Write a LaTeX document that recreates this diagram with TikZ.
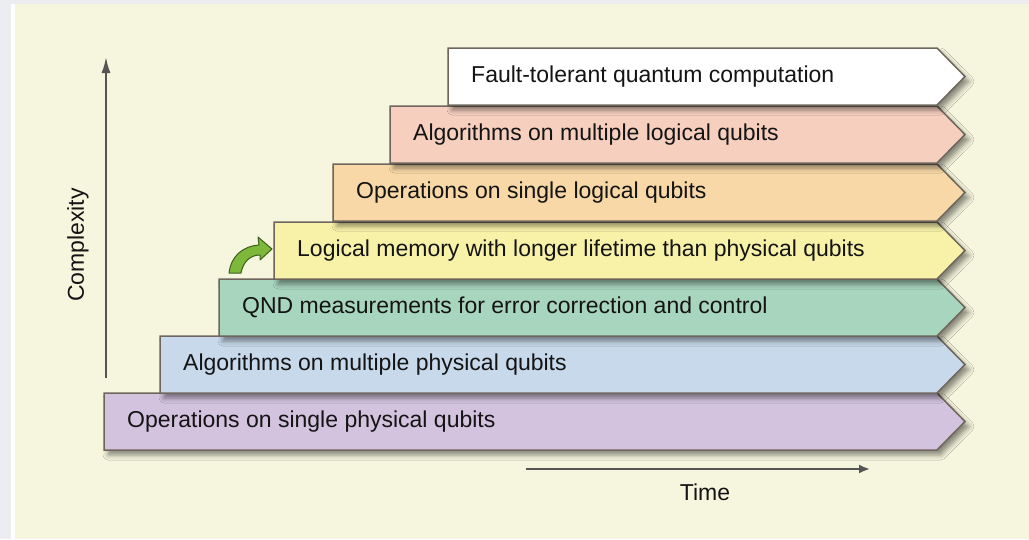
\documentclass[tikz,border=0pt]{standalone}
\usepackage{fontspec}
\setmainfont{Liberation Sans}
\usetikzlibrary{arrows.meta,shadows.blur}
\definecolor{outerbg}{HTML}{ECEDF1}
\definecolor{cream}{HTML}{F6F6DE}
\definecolor{barline}{HTML}{6E665C}
\definecolor{cpurple}{HTML}{D3C3DF}
\definecolor{cblue}{HTML}{C7D9EB}
\definecolor{cgreen}{HTML}{A8D5BD}
\definecolor{cyellow}{HTML}{F8F2A8}
\definecolor{corange}{HTML}{F8D8A6}
\definecolor{cpink}{HTML}{F6CFBF}
\definecolor{cwhite}{HTML}{FFFFFF}
\definecolor{txt}{HTML}{141414}
\definecolor{axis}{HTML}{555555}
\definecolor{agreen}{HTML}{7DB83A}
\definecolor{agreenline}{HTML}{3E5E1E}
\tikzset{
  stepbar/.style={draw=barline, line width=1.5pt, line join=miter,
    blur shadow={shadow xshift=4pt, shadow yshift=-5pt, shadow blur radius=5pt, shadow opacity=45}},
  bartext/.style={anchor=west, font=\fontsize{23}{27}\selectfont, text=txt, inner sep=0pt},
  axisline/.style={draw=axis, line width=2pt},
}
\newcommand\mystep[5]{%
  \path[stepbar, fill=#3] (#1,#2) -- (937,#2) -- (965,#2+28.5) -- (937,#2+57) -- (#1,#2+57) -- cycle;
  \node[bartext] (#5) at (#1+23,#2+28.5) {#4};
}
\begin{document}
\begin{tikzpicture}[x=1pt,y=-1pt]
\useasboundingbox (0,0) rectangle (1029,539);
\fill[outerbg] (0,0) rectangle (1029,539);
\fill[white] (11,4) rectangle (1029,539);
\fill[cream] (15,4) rectangle (1029,539);

\mystep{104}{393}{cpurple}{Operations on single physical qubits}{b1}
\mystep{160}{336}{cblue}{Algorithms on multiple physical qubits}{b2}
\mystep{219}{279}{cgreen}{QND measurements for error correction and control}{b3}
\mystep{274}{222}{cyellow}{Logical memory with longer lifetime than physical qubits}{b4}
\mystep{333}{164}{corange}{Operations on single logical qubits}{b5}
\mystep{390}{106}{cpink}{Algorithms on multiple logical qubits}{b6}
\mystep{448}{48}{cwhite}{Fault-tolerant quantum computation}{b7}

% axes
\coordinate (vs) at (106,378);
\coordinate (ve) at (106,57);
\draw[axisline, -{Latex[length=16pt,width=9pt]}] (vs) -- (ve);
\node[rotate=90, font=\fontsize{23}{27}\selectfont, text=txt] (cx) at (78,245) {Complexity};
\coordinate (hs) at (526,469);
\coordinate (he) at (870,469);
\draw[axisline, -{Latex[length=11pt,width=9pt]}] (hs) -- (he);
\node[font=\fontsize{23}{27}\selectfont, text=txt] (tm) at (705,492) {Time};

% green curved arrow
\path[fill=agreen, draw=agreenline, line width=1pt, line join=round]
  (229,273) .. controls (231,256) and (243,246) .. (259,245)
  -- (258,237) -- (272,249) -- (260,260) -- (260,255)
  .. controls (250,255) and (243,262) .. (241,273) -- cycle;
\end{tikzpicture}
\end{document}
